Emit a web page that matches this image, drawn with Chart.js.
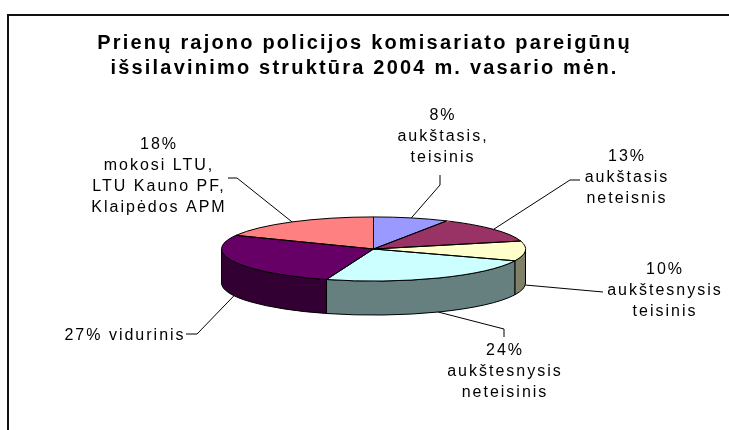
<!DOCTYPE html>
<html>
<head>
<meta charset="utf-8">
<script src="https://cdn.jsdelivr.net/npm/chart.js@4.4.1/dist/chart.umd.min.js"></script>
<style>
  html, body { margin: 0; padding: 0; background: #fff; }
  #wrap { position: relative; width: 729px; height: 430px; overflow: hidden; }
  #frame { position: absolute; left: 7px; top: 14px; right: -10px; bottom: -10px;
           border-top: 2px solid #111; border-left: 2px solid #111; pointer-events: none; }
  canvas { position: absolute; left: 0; top: 0; }
</style>
</head>
<body>
<div id="wrap">
  <canvas id="myChart" width="729" height="430"></canvas>
  <div id="frame"></div>
</div>
<script>
const titleLines = [
  "Prienų rajono policijos komisariato pareigūnų",
  "išsilavinimo struktūra 2004 m. vasario mėn.",
];
const categories = [
  "aukštasis,\nteisinis",
  "aukštasis\nneteisnis",
  "aukštesnysis\nteisinis",
  "aukštesnysis\nneteisinis",
  "vidurinis",
  "mokosi LTU,\nLTU Kauno PF,\nKlaipėdos APM",
];
const shares = [8, 13, 10, 24, 27, 18];
const topColors = ["#9999FF", "#993366", "#FFFFCC", "#CCFFFF", "#660066", "#FF8080"];
const sideColors = ["#4C4C80", "#4C1933", "#808066", "#668080", "#330033", "#804040"];

// label placement (layout only): text centre of first line, and leader bends
const labelCenters = [[442, 116], [626, 157], [664, 270], [504, 351], [124, 336], [158, 145]];
const leaderBends = [
  [[440, 185], [440, 175]],
  [[570, 180], [580, 180]],
  [[603, 292]],
  [[504, 329], [504, 337]],
  [[197, 334], [186, 334]],
  [[237, 178], [228, 178]],
];

const TILT = 0.211;   // flattening of the pie
const DEPTH = 34;     // thickness of the 3d side
const SHIFT_X = 9;    // pie sits a bit right of the title
const LINE_H = 20.7;

function ellipsePt(cx, cy, r, a) {
  return [cx + r * Math.cos(a), cy + r * TILT * Math.sin(a)];
}

function labelLines(i) {
  const cat = categories[i];
  if (cat.indexOf("\n") < 0) return [shares[i] + "% " + cat];
  return [shares[i] + "%"].concat(cat.split("\n"));
}

const pie3d = {
  id: "pie3d",
  beforeDraw(chart) {
    chart.ctx.letterSpacing = "2.2px";
  },
  beforeDatasetsDraw(chart) {
    const ctx = chart.ctx;
    ctx.letterSpacing = "0px";
    const arcs = chart.getDatasetMeta(0).data;
    const cx = arcs[0].x + SHIFT_X, cy = arcs[0].y, r = arcs[0].outerRadius;
    ctx.save();
    ctx.lineWidth = 1;
    ctx.strokeStyle = "#000";
    arcs.forEach(function (arc, i) {
      const a1 = Math.max(arc.startAngle, 0);
      const a2 = Math.min(arc.endAngle, Math.PI);
      if (a2 <= a1) return;
      ctx.beginPath();
      ctx.ellipse(cx, cy, r, r * TILT, 0, a1, a2);
      ctx.ellipse(cx, cy + DEPTH, r, r * TILT, 0, a2, a1, true);
      ctx.closePath();
      ctx.fillStyle = sideColors[i];
      ctx.fill();
      ctx.stroke();
    });
    ctx.restore();
    // squash the library's own arcs into the top face
    ctx.save();
    ctx.translate(SHIFT_X, cy);
    ctx.scale(1, TILT);
    ctx.translate(0, -cy);
  },
  afterDatasetsDraw(chart) {
    const ctx = chart.ctx;
    ctx.restore();
    const arcs = chart.getDatasetMeta(0).data;
    const cx = arcs[0].x + SHIFT_X, cy = arcs[0].y, r = arcs[0].outerRadius;
    ctx.save();
    ctx.lineWidth = 1;
    ctx.strokeStyle = "#000";
    arcs.forEach(function (arc) {
      ctx.beginPath();
      ctx.moveTo(cx, cy);
      ctx.ellipse(cx, cy, r, r * TILT, 0, arc.startAngle, arc.endAngle);
      ctx.closePath();
      ctx.stroke();
    });
    ctx.font = '16px "Liberation Sans", Arial, sans-serif';
    ctx.letterSpacing = "2px";
    ctx.fillStyle = "#000";
    ctx.textAlign = "center";
    ctx.textBaseline = "middle";
    arcs.forEach(function (arc, i) {
      const mid = (arc.startAngle + arc.endAngle) / 2;
      let [ax, ay] = ellipsePt(cx, cy, r, mid);
      if (Math.sin(mid) > 0) ay += DEPTH;
      ctx.beginPath();
      ctx.moveTo(ax, ay);
      leaderBends[i].forEach(function (p) { ctx.lineTo(p[0], p[1]); });
      ctx.stroke();
      labelLines(i).forEach(function (t, j) {
        ctx.fillText(t, labelCenters[i][0] + 1, labelCenters[i][1] + j * LINE_H);
      });
    });
    ctx.restore();
  },
};

const ctx = document.querySelector("#myChart");
const chart = new Chart(ctx, {
  type: "pie",
  data: {
    labels: categories,
    datasets: [
      {
        data: shares,
        backgroundColor: topColors,
        borderWidth: 0,
        hoverOffset: 0,
      },
    ],
  },
  options: {
    responsive: false,
    animation: false,
    events: [],
    layout: { padding: { bottom: 29 } },
    plugins: {
      legend: { display: false },
      tooltip: { enabled: false },
      title: {
        display: true,
        text: titleLines,
        color: "#000",
        font: { family: '"Liberation Sans", Arial, sans-serif', size: 20, weight: "bold", lineHeight: 1.25 },
        padding: { top: 31, bottom: 16 },
      },
    },
  },
  plugins: [pie3d],
});
</script>
</body>
</html>
